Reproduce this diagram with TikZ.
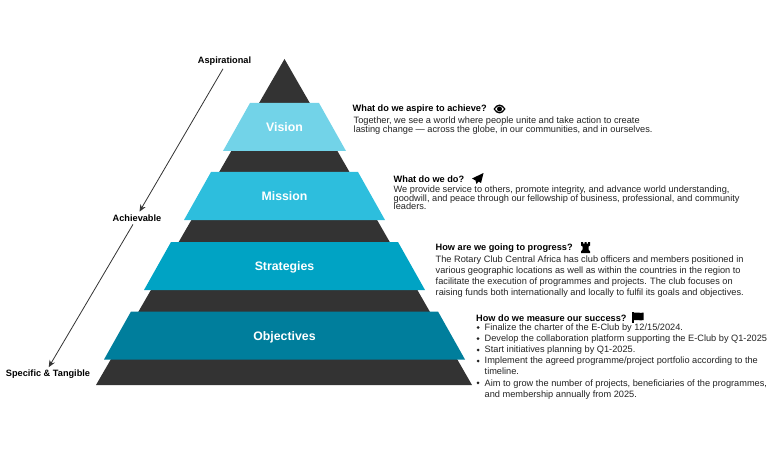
\documentclass[tikz,border=0pt]{standalone}
\usepackage{fontspec}
\usetikzlibrary{arrows.meta}
\setmainfont{Liberation Sans}
\definecolor{darkband}{HTML}{333333}
\definecolor{visioncol}{HTML}{72D3E8}
\definecolor{missioncol}{HTML}{2DBEDD}
\definecolor{strategycol}{HTML}{00A3C4}
\definecolor{objectivecol}{HTML}{007E9C}
\definecolor{bodytext}{HTML}{222222}
\tikzset{
  levellabel/.style={text=white, text height=9pt, text depth=0pt, font=\fontsize{12.3}{14}\selectfont\bfseries},
  sidelabel/.style={text=black, font=\fontsize{9.2}{10}\selectfont\bfseries, inner sep=0pt, outer sep=3pt},
  headtext/.style={anchor=west, inner sep=0pt, text=black, font=\fontsize{9.2}{11}\selectfont\bfseries},
  bodytight/.style={anchor=north west, inner sep=0pt, align=left, text=bodytext, font=\fontsize{9.22}{8.7}\selectfont},
  bodyloose/.style={anchor=north west, inner sep=0pt, align=left, text=bodytext, font=\fontsize{9.22}{11.15}\selectfont},
  arrowline/.style={draw=darkband, -{Stealth[length=7pt,width=6pt]}, line width=0.8pt}
}
\begin{document}
\begin{tikzpicture}[x=1pt,y=-1pt]
\useasboundingbox (0,0) rectangle (768,457);

% pyramid
\fill[darkband] (284.5,59) -- (472,385) -- (96,385) -- cycle;
\foreach \top/\topl/\topr/\botl/\botr/\col/\nme/\txt in {
    103/250/319/223/346/visioncol/vision/Vision,
    172/211/358/184/385/missioncol/mission/Mission,
    242/171/398/144/425/strategycol/strategies/Strategies,
    311.5/131/438/104/465/objectivecol/objectives/Objectives}
{
    \fill[\col] (\topl,\top) -- (\topr,\top) -- (\botr,\top+48) -- (\botl,\top+48) -- cycle;
    \node[levellabel] (\nme) at (284.5,\top+24) {\txt};
}

% left side
\node[sidelabel] (aspirational) at (224.5,61.5) {Aspirational};
\node[sidelabel] (achievable) at (137,218) {Achievable};
\node[sidelabel] (specific) at (48,374.5) {Specific \& Tangible};
\draw[arrowline] ([xshift=-1.5pt]aspirational.south) -- ([xshift=2.5pt]achievable.north);
\draw[arrowline] ([xshift=-4pt]achievable.south) -- ([xshift=0.7pt]specific.north);

% vision text
\node[headtext] (visionhead) at (352.5,109.5) {What do we aspire to achieve?};
\node[bodytight] (visionbody) at (353.5,116.7) {Together, we see a world where people unite and take action to create\\lasting change — across the globe, in our communities, and in ourselves.};
\fill[black, even odd rule] (493.5,109) .. controls (496.5,103) and (502.5,103) .. (505.5,109) .. controls (502.5,115) and (496.5,115) .. (493.5,109)
    (495,109) .. controls (497.5,105) and (501.5,105) .. (504,109) .. controls (501.5,113) and (497.5,113) .. (495,109);
\fill[black] (499.5,109) circle (2.5);

% mission text
\node[headtext] (missionhead) at (393.5,179.5) {What do we do?};
\node[bodytight] (missionbody) at (393.5,185.5) {We provide service to others, promote integrity, and advance world understanding,\\goodwill, and peace through our fellowship of business, professional, and community\\leaders.};
\fill[black] (483.5,173) -- (472,178.5) -- (475.5,180.5) -- (476.5,184) -- (478.5,181.5) -- (481,183) -- cycle;

% strategies text
\node[headtext] (strategyhead) at (435.5,248.5) {How are we going to progress?};
\node[bodyloose] (strategybody) at (435.5,255.3) {The Rotary Club Central Africa has club officers and members positioned in\\various geographic locations as well as within the countries in the region to\\facilitate the execution of programmes and projects. The club focuses on\\raising funds both internationally and locally to fulfil its goals and objectives.};
\fill[black] (581,242) -- (583,242) -- (583,243.5) -- (584.5,243.5) -- (584.5,242) -- (586.5,242) -- (586.5,243.5) -- (588,243.5) -- (588,242) -- (590,242)
    -- (590,245.5) -- (588.5,246.5) -- (588.5,249.5) -- (590,251.5) -- (590,253) -- (581,253) -- (581,251.5) -- (582.5,249.5) -- (582.5,246.5) -- (581,245.5) -- cycle;

% objectives text
\node[headtext] (objectivehead) at (476,318) {How do we measure our success?};
\node[bodyloose] (objectivebody) at (484.5,323.5) {Finalize the charter of the E-Club by 12/15/2024.\\Develop the collaboration platform supporting the E-Club by Q1-2025\\Start initiatives planning by Q1-2025.\\Implement the agreed programme/project portfolio according to the\\timeline.\\Aim to grow the number of projects, beneficiaries of the programmes,\\and membership annually from 2025.};
\foreach \y in {327.5,338.7,350,361,382.8}
    \fill[bodytext] (478,\y) circle (1.5);
\fill[black] (632,312) -- (633.5,312) -- (633.5,323) -- (632,323) -- cycle;
\fill[black] (633.5,312.5) .. controls (637,311) and (639,314) .. (643.5,312.5) -- (643.5,320) .. controls (639,321.5) and (637,318.5) .. (633.5,320) -- cycle;
\end{tikzpicture}
\end{document}
